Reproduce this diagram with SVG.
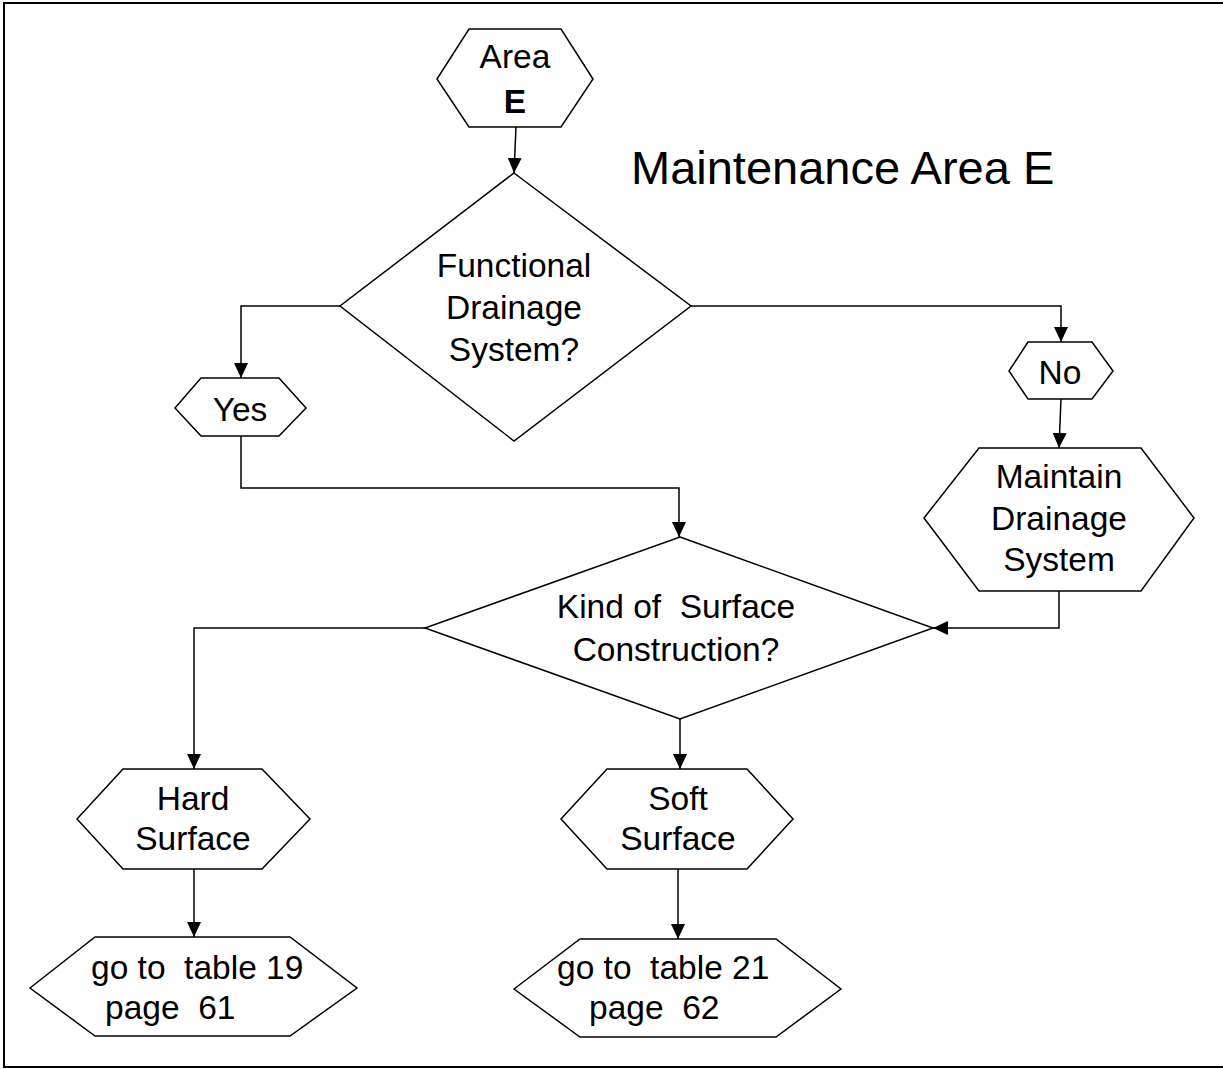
<svg xmlns="http://www.w3.org/2000/svg" width="1223" height="1069" viewBox="0 0 1223 1069">
<style>
.shape{fill:#fff;stroke:#000;stroke-width:1.5}
.conn{fill:none;stroke:#000;stroke-width:1.5}
text{font-family:"Liberation Sans",Arial,sans-serif;font-size:33.5px;fill:#000}
.c{text-anchor:middle}
</style>
<defs>
<marker id="arr" viewBox="0 0 15 14" refX="15" refY="7" markerWidth="15" markerHeight="14" markerUnits="userSpaceOnUse" orient="auto">
<path d="M0,0 L15,7 L0,14 Z" fill="#000"/>
</marker>
</defs>
<rect x="4" y="3" width="1222" height="1064" fill="#fff" stroke="#000" stroke-width="2"/>
<text x="631" y="184" style="font-size:47px">Maintenance Area E</text>
<g id="connectors">
<path class="conn" d="M516,127 L514,173" marker-end="url(#arr)"/>
<path class="conn" d="M340,306 L241,306 L241,378" marker-end="url(#arr)"/>
<path class="conn" d="M691,306 L1061,306 L1061,342" marker-end="url(#arr)"/>
<path class="conn" d="M1061,399 L1059,448" marker-end="url(#arr)"/>
<path class="conn" d="M241,436 L241,488 L679,488 L679,537" marker-end="url(#arr)"/>
<path class="conn" d="M1059,591 L1059,628 L933,628" marker-end="url(#arr)"/>
<path class="conn" d="M425,628 L194,628 L194,769" marker-end="url(#arr)"/>
<path class="conn" d="M680,719 L680,769" marker-end="url(#arr)"/>
<path class="conn" d="M194,869 L194,937" marker-end="url(#arr)"/>
<path class="conn" d="M678,869 L678,939" marker-end="url(#arr)"/>
</g>
<g id="areaE">
<polygon class="shape" points="437,79 469,29 561,29 593,79 561,127 469,127"/>
<text class="c" x="515" y="68">Area</text>
<text class="c" x="515" y="113" style="font-weight:bold">E</text>
</g>
<g id="functional">
<polygon class="shape" points="514,173 691,306 514,441 340,306"/>
<text class="c" x="514" y="277">Functional</text>
<text class="c" x="514" y="319">Drainage</text>
<text class="c" x="514" y="361">System?</text>
</g>
<g id="yes">
<polygon class="shape" points="175,408 201,378 279,378 306,408 279,436 201,436"/>
<text class="c" x="240" y="421">Yes</text>
</g>
<g id="no">
<polygon class="shape" points="1009,371 1028,342 1092,342 1113,371 1092,399 1028,399"/>
<text class="c" x="1060" y="384">No</text>
</g>
<g id="maintain">
<polygon class="shape" points="924,518 979,448 1141,448 1194,518 1141,591 979,591"/>
<text class="c" x="1059" y="488">Maintain</text>
<text class="c" x="1059" y="530">Drainage</text>
<text class="c" x="1059" y="571">System</text>
</g>
<g id="kind">
<polygon class="shape" points="680,537 933,628 680,719 425,628"/>
<text class="c" x="676" y="618" xml:space="preserve">Kind of  Surface</text>
<text class="c" x="676" y="661">Construction?</text>
</g>
<g id="hard">
<polygon class="shape" points="77,819 123,769 262,769 310,819 262,869 123,869"/>
<text class="c" x="193" y="810">Hard</text>
<text class="c" x="193" y="850">Surface</text>
</g>
<g id="soft">
<polygon class="shape" points="561,819 607,769 747,769 793,819 747,869 607,869"/>
<text class="c" x="678" y="810">Soft</text>
<text class="c" x="678" y="850">Surface</text>
</g>
<g id="table19">
<polygon class="shape" points="30,988 95,937 290,937 357,988 290,1036 95,1036"/>
<text x="91" y="979" xml:space="preserve">go to  table 19</text>
<text x="105" y="1019" xml:space="preserve">page  61</text>
</g>
<g id="table21">
<polygon class="shape" points="514,989 580,939 776,939 841,989 776,1037 580,1037"/>
<text x="557" y="979" xml:space="preserve">go to  table 21</text>
<text x="589" y="1019" xml:space="preserve">page  62</text>
</g>
</svg>
